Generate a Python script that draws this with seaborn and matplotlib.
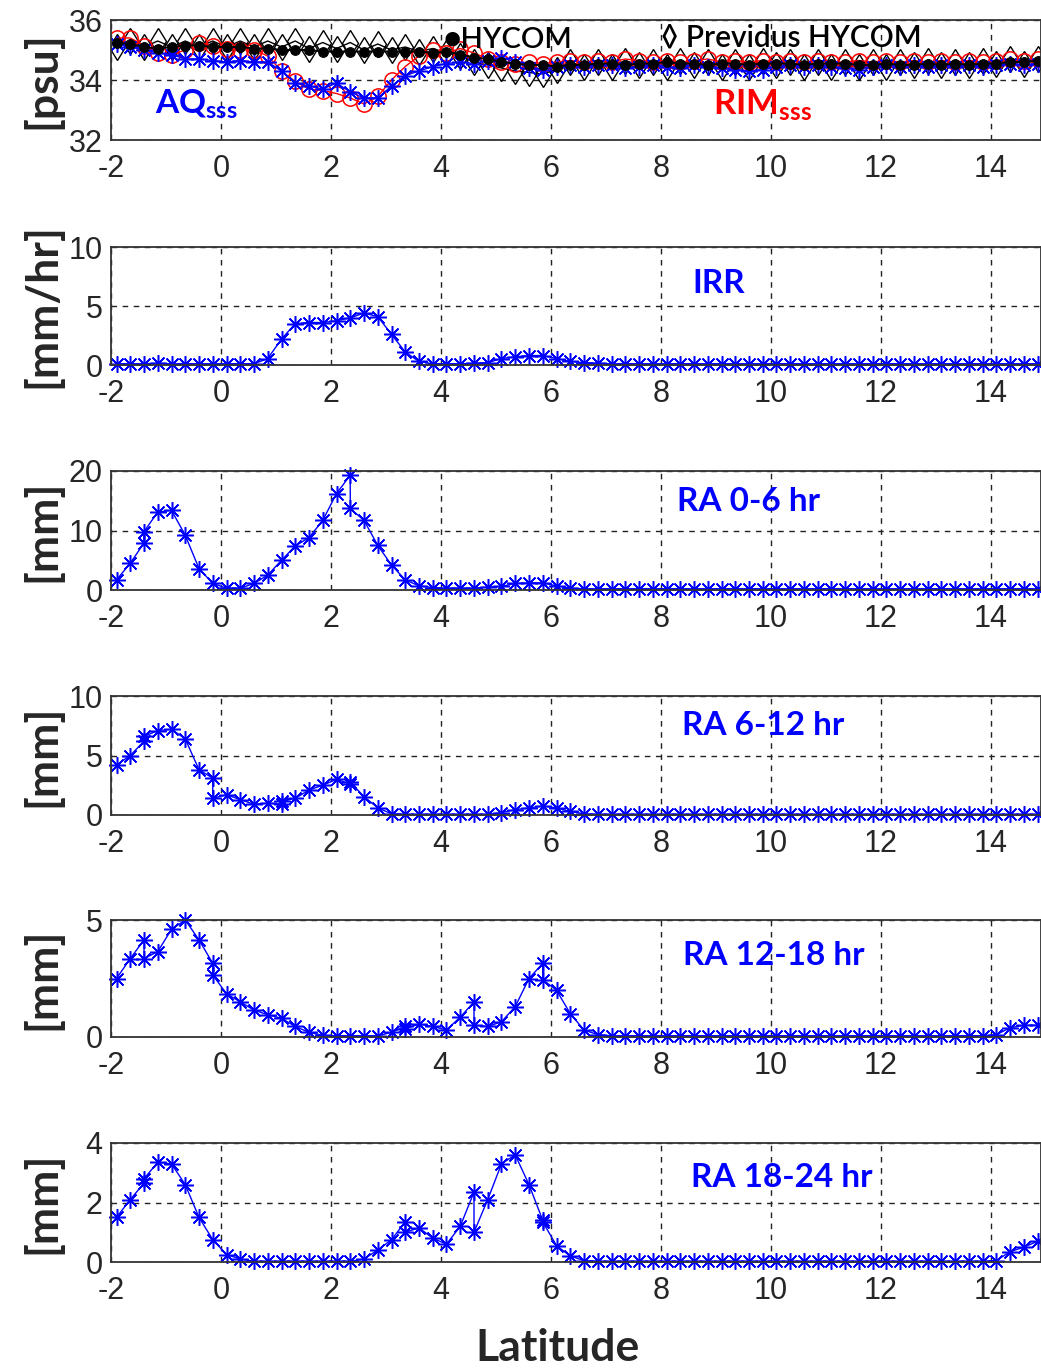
import numpy as np
import pandas as pd
import matplotlib
matplotlib.use("Agg")
import matplotlib.pyplot as plt
import seaborn as sns

sns.set_style("white")
plt.rcParams["font.family"] = ["Liberation Sans", "DejaVu Sans"]
plt.rcParams["axes.unicode_minus"] = False
plt.rcParams["mathtext.fontset"] = "custom"
plt.rcParams["mathtext.rm"] = "Lato:bold"
plt.rcParams["mathtext.bf"] = "Lato:bold"

# latitude grid of the track (deg N)
lat = [-1.9, -1.65, -1.4, -1.15, -0.9, -0.65, -0.4, -0.15, 0.1, 0.35,
       0.6, 0.85, 1.1, 1.35, 1.6, 1.85, 2.1, 2.35, 2.6, 2.85,
       3.1, 3.35, 3.6, 3.85, 4.1, 4.35, 4.6, 4.85, 5.1, 5.35,
       5.6, 5.85, 6.1, 6.35, 6.6, 6.85, 7.1, 7.35, 7.6, 7.85,
       8.1, 8.35, 8.6, 8.85, 9.1, 9.35, 9.6, 9.85, 10.1, 10.35,
       10.6, 10.85, 11.1, 11.35, 11.6, 11.85, 12.1, 12.35, 12.6, 12.85,
       13.1, 13.35, 13.6, 13.85, 14.1, 14.35, 14.6, 14.85, 15.1]

# salinity [psu]
hycom = [35.25, 35.2, 35.1, 35.05, 35.1, 35.15, 35.15, 35.1, 35.1, 35.1,
         35.05, 35.05, 35.0, 35.0, 35.0, 34.95, 34.95, 34.95, 34.95, 34.95,
         34.95, 34.95, 34.95, 34.9, 34.95, 34.85, 34.75, 34.7, 34.6, 34.55,
         34.5, 34.5, 34.45, 34.5, 34.5, 34.55, 34.55, 34.5, 34.55, 34.55,
         34.6, 34.55, 34.55, 34.5, 34.55, 34.55, 34.5, 34.55, 34.55, 34.55,
         34.5, 34.55, 34.55, 34.55, 34.5, 34.5, 34.55, 34.5, 34.5, 34.55,
         34.5, 34.55, 34.5, 34.55, 34.55, 34.6, 34.6, 34.65, 34.7]
prev_hycom = [35.1, 35.3, 35.1, 35.3, 35.1, 35.3, 35.1, 35.3, 35.1, 35.3,
              35.1, 35.3, 35.1, 35.3, 35.05, 35.25, 35.05, 35.25, 35.0, 35.2,
              35.0, 35.1, 34.95, 35.05, 34.9, 34.8, 34.6, 34.5, 34.4, 34.3,
              34.25, 34.2, 34.35, 34.6, 34.45, 34.6, 34.45, 34.65, 34.5, 34.6,
              34.45, 34.65, 34.5, 34.6, 34.45, 34.6, 34.45, 34.65, 34.5, 34.6,
              34.45, 34.6, 34.45, 34.6, 34.45, 34.6, 34.45, 34.6, 34.5, 34.65,
              34.5, 34.6, 34.5, 34.65, 34.55, 34.7, 34.55, 34.7, 34.6]
aq_sss = [35.2, 35.1, 35.0, 34.9, 34.85, 34.7, 34.7, 34.65, 34.6, 34.65,
          34.6, 34.6, 34.3, 33.9, 33.8, 33.7, 33.9, 33.6, 33.4, 33.4,
          33.8, 34.15, 34.3, 34.45, 34.55, 34.6, 34.55, 34.65, 34.75, 34.6,
          34.4, 34.35, 34.45, 34.5, 34.45, 34.5, 34.5, 34.4, 34.45, 34.5,
          34.45, 34.4, 34.5, 34.45, 34.4, 34.35, 34.3, 34.35, 34.45, 34.5,
          34.45, 34.5, 34.45, 34.4, 34.35, 34.45, 34.5, 34.45, 34.5, 34.45,
          34.5, 34.45, 34.5, 34.45, 34.5, 34.55, 34.5, 34.55, 34.6]
rim_sss = [35.4, 35.4, 35.15, 34.9, 34.85, 35.0, 35.25, 35.15, 35.05, 35.0,
           35.0, 34.8, 34.3, 33.95, 33.7, 33.65, 33.55, 33.4, 33.2, 33.45,
           34.0, 34.45, 34.8, 35.0, 34.9, 35.05, 34.9, 34.7, 34.6, 34.55,
           34.6, 34.55, 34.6, 34.65, 34.6, 34.65, 34.6, 34.7, 34.65, 34.6,
           34.65, 34.6, 34.65, 34.7, 34.6, 34.65, 34.6, 34.65, 34.6, 34.65,
           34.6, 34.65, 34.6, 34.6, 34.65, 34.6, 34.65, 34.6, 34.65, 34.6,
           34.65, 34.6, 34.65, 34.6, 34.65, 34.7, 34.65, 34.7, 34.7]

# rain rate / accumulations
irr = [0.1, 0.1, 0.1, 0.15, 0.1, 0.1, 0.1, 0.1, 0.1, 0.1,
       0.1, 0.55, 2.2, 3.5, 3.6, 3.6, 3.75, 4.0, 4.4, 4.1,
       2.6, 1.1, 0.3, 0.1, 0.1, 0.1, 0.15, 0.2, 0.55, 0.7,
       0.8, 0.8, 0.55, 0.3, 0.2, 0.15, 0.1, 0.1, 0.1, 0.1,
       0.1, 0.1, 0.1, 0.1, 0.1, 0.1, 0.1, 0.1, 0.1, 0.1,
       0.1, 0.1, 0.1, 0.1, 0.1, 0.1, 0.1, 0.1, 0.1, 0.1,
       0.1, 0.1, 0.1, 0.1, 0.1, 0.1, 0.1, 0.1, 0.1]
ra_0_6 = [1.7, 4.5, 7.9, 13.1, 13.4, 9.2, 3.6, 1.1, 0.3, 0.3,
          1.1, 2.5, 5.0, 7.4, 8.8, 11.7, 16.2, 19.3, 11.7, 7.5,
          4.2, 1.7, 0.7, 0.4, 0.3, 0.3, 0.3, 0.5, 0.6, 1.1,
          1.2, 1.2, 0.7, 0.3, 0.2, 0.2, 0.2, 0.2, 0.2, 0.2,
          0.2, 0.2, 0.2, 0.2, 0.2, 0.2, 0.2, 0.2, 0.2, 0.2,
          0.2, 0.2, 0.2, 0.2, 0.2, 0.2, 0.2, 0.2, 0.2, 0.2,
          0.2, 0.2, 0.2, 0.2, 0.2, 0.2, 0.2, 0.2, 0.2]
ra_6_12 = [4.2, 5.0, 6.2, 7.1, 7.2, 6.4, 3.8, 3.1, 1.7, 1.3,
           0.9, 1.0, 0.9, 1.4, 2.1, 2.5, 3.0, 2.6, 1.55, 0.6,
           0.1, 0.05, 0.05, 0.05, 0.05, 0.05, 0.05, 0.05, 0.2, 0.45,
           0.6, 0.75, 0.6, 0.3, 0.1, 0.05, 0.05, 0.05, 0.05, 0.05,
           0.05, 0.05, 0.05, 0.05, 0.05, 0.05, 0.05, 0.05, 0.05, 0.05,
           0.05, 0.05, 0.05, 0.05, 0.05, 0.05, 0.05, 0.05, 0.05, 0.05,
           0.05, 0.05, 0.05, 0.05, 0.05, 0.05, 0.05, 0.05, 0.05]
ra_12_18 = [2.5, 3.35, 4.15, 3.65, 4.6, 5.0, 4.15, 3.15, 1.85, 1.5,
            1.15, 0.95, 0.8, 0.45, 0.2, 0.07, 0.05, 0.05, 0.05, 0.05,
            0.2, 0.45, 0.55, 0.45, 0.3, 0.85, 1.5, 0.45, 0.65, 1.3,
            2.5, 3.15, 2.0, 1.0, 0.3, 0.1, 0.05, 0.05, 0.05, 0.05,
            0.05, 0.05, 0.05, 0.05, 0.05, 0.05, 0.05, 0.05, 0.05, 0.05,
            0.05, 0.05, 0.05, 0.05, 0.05, 0.05, 0.05, 0.05, 0.05, 0.05,
            0.05, 0.05, 0.05, 0.05, 0.1, 0.4, 0.5, 0.5, 0.5]
ra_18_24 = [1.5, 2.1, 2.65, 3.35, 3.3, 2.6, 1.5, 0.75, 0.25, 0.1,
            0.02, 0.02, 0.02, 0.02, 0.02, 0.02, 0.02, 0.02, 0.1, 0.4,
            0.75, 1.35, 1.15, 0.8, 0.6, 1.2, 2.35, 2.1, 3.3, 3.6,
            2.6, 1.4, 0.55, 0.2, 0.05, 0.02, 0.02, 0.02, 0.02, 0.02,
            0.02, 0.02, 0.02, 0.02, 0.02, 0.02, 0.02, 0.02, 0.02, 0.02,
            0.02, 0.02, 0.02, 0.02, 0.02, 0.02, 0.02, 0.02, 0.02, 0.02,
            0.02, 0.02, 0.02, 0.02, 0.05, 0.35, 0.5, 0.7, 0.8]

# repeated samples along the track: (index after which it occurs, value)
dup_0_6 = [(2, 9.8), (17, 13.7)]
dup_6_12 = [(2, 6.6), (7, 1.4), (12, 1.15), (17, 2.75)]
dup_12_18 = [(2, 3.35), (7, 2.65), (21, 0.35), (26, 0.5), (31, 2.45)]
dup_18_24 = [(2, 2.8), (21, 1.0), (26, 1.0), (31, 1.35)]


def track(vals, dups):
    xs, ys = [], []
    extra = dict(dups)
    for i, (x, v) in enumerate(zip(lat, vals)):
        xs.append(x)
        ys.append(v)
        if i in extra:
            xs.append(x)
            ys.append(extra[i])
    return pd.DataFrame({"lat": xs, "val": ys})


blue = "#0000ff"
star = (8, 2, 0)

fig = plt.figure(figsize=(10.41, 13.7), dpi=100)
left, width = 111 / 1041, 930 / 1041
boxes = [(20, 140), (247, 365), (471, 590), (696, 815), (920, 1037), (1143, 1262)]
axes = [fig.add_axes([left, 1 - b / 1370, width, (b - t) / 1370]) for t, b in boxes]

ylims = [(32, 36), (0, 10), (0, 20), (0, 10), (0, 5), (0, 4)]
yticks = [[32, 34, 36], [0, 5, 10], [0, 10, 20], [0, 5, 10], [0, 5], [0, 2, 4]]
ylabels = ["[psu]", "[mm/hr]", "[mm]", "[mm]", "[mm]", "[mm]"]

for ax, yl, yt, lab in zip(axes, ylims, yticks, ylabels):
    ax.set_xlim(-2, -2 + 930 / 55)
    ax.set_ylim(*yl)
    ax.set_xticks([-2, 0, 2, 4, 6, 8, 10, 12, 14])
    ax.set_yticks(yt)
    ax.grid(True, color="#222222", linestyle=(0, (4, 4)), linewidth=1.0)
    ax.tick_params(direction="in", length=5, width=1, labelsize=22,
                   top=False, right=False)
    ax.tick_params(axis="x", pad=10)
    ax.tick_params(axis="y", pad=6)
    for s in ax.spines.values():
        s.set_color("#333333")
        s.set_linewidth(1.3)
    bb = ax.get_position()
    fig.text(0.04, bb.y0 + bb.height / 2, lab, rotation=90, ha="center", va="center",
             fontsize=32, fontweight="bold", family=["Lato", "DejaVu Sans"])

# top panel: salinity
ax = axes[0]
top = pd.DataFrame({"lat": lat, "HYCOM": hycom, "Prev": prev_hycom,
                    "AQ": aq_sss, "RIM": rim_sss})
sns.lineplot(data=top, x="lat", y="Prev", ax=ax, color="k", lw=1.0, marker="d",
             markersize=13, markerfacecolor="none", markeredgecolor="k",
             markeredgewidth=1.0, sort=False, estimator=None)
sns.lineplot(data=top, x="lat", y="RIM", ax=ax, color="red", lw=1.0, marker="o",
             markersize=11, markerfacecolor="none", markeredgecolor="red",
             markeredgewidth=1.1, sort=False, estimator=None)
sns.lineplot(data=top, x="lat", y="AQ", ax=ax, color=blue, lw=1.0, marker=star,
             markersize=12, markeredgecolor=blue, markeredgewidth=1.1,
             sort=False, estimator=None)
sns.lineplot(data=top, x="lat", y="HYCOM", ax=ax, color="k", lw=1.4, marker="o",
             markersize=7, markerfacecolor="k", markeredgecolor="k",
             sort=False, estimator=None)
ax.text(4.05, 35.33, "\u25cfHYCOM", fontsize=21, color="k", va="center",
        family=["Lato", "DejaVu Sans"], fontweight="semibold")
ax.text(8.0, 35.4, "\u25ca Previdus HYCOM", fontsize=21.5, color="k", va="center",
        family=["Lato", "DejaVu Sans"], fontweight="semibold")
ax.text(-1.2, 33.2, r"$\mathrm{AQ}_{\mathrm{sss}}$", fontsize=24, color=blue,
        va="center")
ax.text(8.95, 33.2, r"$\mathrm{RIM}_{\mathrm{sss}}$", fontsize=25, color="red",
        va="center")
ax.set_xlabel("")
ax.set_ylabel("")

# rain panels
series = [(irr, [], "IRR", 9.05, 6.9),
          (ra_0_6, dup_0_6, "RA 0-6 hr", 9.6, 14.8),
          (ra_6_12, dup_6_12, "RA 6-12 hr", 9.85, 7.5),
          (ra_12_18, dup_12_18, "RA 12-18 hr", 10.05, 3.5),
          (ra_18_24, dup_18_24, "RA 18-24 hr", 10.2, 2.85)]
for ax, (vals, dups, name, tx, ty) in zip(axes[1:], series):
    df = track(vals, dups)
    sns.lineplot(data=df, x="lat", y="val", ax=ax, color=blue, lw=1.0, marker=star,
                 markersize=12, markeredgecolor=blue, markeredgewidth=1.1,
                 sort=False, estimator=None, clip_on=False)
    ax.text(tx, ty, name, fontsize=24, fontweight="bold", color=blue,
            ha="center", va="center", family=["Lato", "DejaVu Sans"])
    ax.set_xlabel("")
    ax.set_ylabel("")

fig.text(0.536, 0.016, "Latitude", ha="center", va="center", fontsize=32,
         fontweight="bold", family=["Lato", "DejaVu Sans"])

fig.savefig("out.png", dpi=100)
